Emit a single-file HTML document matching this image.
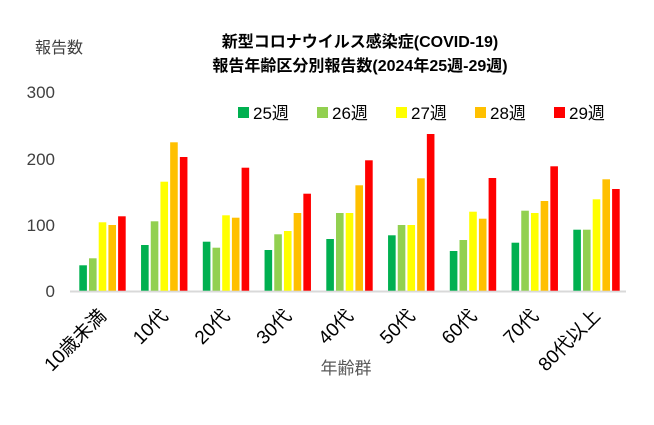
<!DOCTYPE html>
<html><head><meta charset="utf-8"><style>
body{margin:0;background:#fff;}
svg{display:block;font-family:"Liberation Sans","Noto Sans CJK JP",sans-serif;}
</style></head><body>
<svg width="654" height="425" viewBox="0 0 654 425" xmlns="http://www.w3.org/2000/svg">
<rect width="654" height="425" fill="#fff"/>
<text x="360" y="47" font-size="16" font-weight="bold" text-anchor="middle" fill="#000">新型コロナウイルス感染症(COVID-19)</text>
<text x="360" y="71" font-size="16" font-weight="bold" text-anchor="middle" fill="#000">報告年齢区分別報告数(2024年25週-29週)</text>
<text x="35" y="53" font-size="16" fill="#404040">報告数</text>
<g font-size="17" fill="#404040" text-anchor="end">
<text x="55" y="98">300</text><text x="55" y="165">200</text><text x="55" y="231">100</text><text x="55" y="297">0</text>
</g>
<g font-size="17" fill="#000">
<rect x="238" y="107" width="11" height="11" fill="#00b050"/><text x="253" y="119">25週</text>
<rect x="317" y="107" width="11" height="11" fill="#92d050"/><text x="332" y="119">26週</text>
<rect x="396" y="107" width="11" height="11" fill="#ffff00"/><text x="411" y="119">27週</text>
<rect x="475" y="107" width="11" height="11" fill="#ffc000"/><text x="490" y="119">28週</text>
<rect x="554" y="107" width="11" height="11" fill="#ff0000"/><text x="569" y="119">29週</text>
</g>
<line x1="70" y1="291.5" x2="626" y2="291.5" stroke="#d9d9d9" stroke-width="2"/>
<g id="bars"></g>
<text x="346" y="374" font-size="17" fill="#595959" text-anchor="middle">年齢群</text>
<g id="labels" font-size="19" fill="#000"></g>
<script>
var tops=[[265.3,258.3,222.3,225,216.3],[245,221.3,181.7,142.3,157],[241.7,247.7,215.3,217.7,167.7],[250,234.3,231,213,193.7],[239,213,213,185.3,160.3],[235.3,225,225,178.3,134],[251,240,211.7,218.7,178],[242.7,210.7,213,201,166.3],[229.7,229.7,199.3,179.3,189]];
var cols=["#00b050","#92d050","#ffff00","#ffc000","#ff0000"];
var labs=["10歳未満","10代","20代","30代","40代","50代","60代","70代","80代以上"];
var ns="http://www.w3.org/2000/svg",g=document.getElementById("bars"),L=document.getElementById("labels");
for(var i=0;i<9;i++){var x0=79.3+61.75*i;
for(var j=0;j<5;j++){var r=document.createElementNS(ns,"rect");var x=x0+j*9.7,t=tops[i][j];
r.setAttribute("x",x);r.setAttribute("y",t);r.setAttribute("width",7.6);r.setAttribute("height",290.7-t);r.setAttribute("fill",cols[j]);g.appendChild(r);}
var cx=x0+23;var tx=document.createElementNS(ns,"text");tx.setAttribute("text-anchor","end");
tx.setAttribute("transform","translate("+(cx+5)+",317) rotate(-45)");tx.textContent=labs[i];L.appendChild(tx);}
</script>
</svg>
</body></html>
